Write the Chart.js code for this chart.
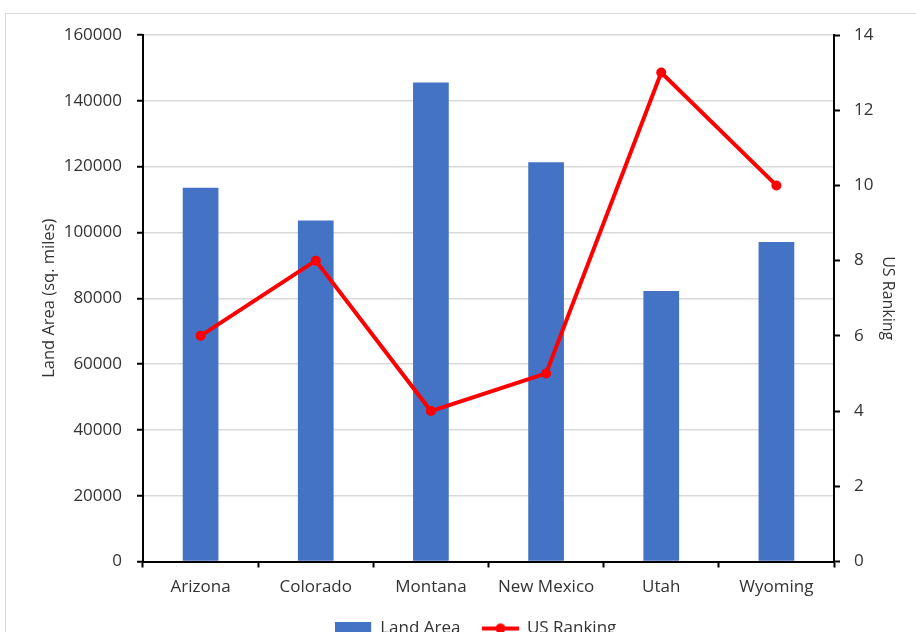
<!DOCTYPE html>
<html>
<head>
<meta charset="utf-8">
<script src="https://cdn.jsdelivr.net/npm/chart.js@4/dist/chart.umd.min.js"></script>
<style>
  html, body { margin: 0; padding: 0; background: #fff; overflow: hidden; }
  #wrap { position: absolute; left: 0; top: 0; width: 916px; height: 647px; }
</style>
</head>
<body>
<div id="wrap"><canvas id="chart"></canvas></div>
<script>
// Western states: land area and national land-area ranking
const states = ['Arizona', 'Colorado', 'Montana', 'New Mexico', 'Utah', 'Wyoming'];
const landArea = [113594, 103642, 145546, 121298, 82170, 97093];
const usRanking = [6, 8, 4, 5, 13, 10];

const BLUE = '#4472C4';
const RED = '#FF0000';
const TEXT = '#333333';
const FONT = "'Open Sans', 'Liberation Sans', sans-serif";

// legend swatches: a filled box and a line with a marker
function swatch(kind) {
  const c = document.createElement('canvas');
  c.width = 37; c.height = 14;
  const g = c.getContext('2d');
  if (kind === 'bar') {
    g.fillStyle = BLUE;
    g.fillRect(0, 0, 36, 14);
  } else {
    g.strokeStyle = RED; g.lineWidth = 4;
    g.beginPath(); g.moveTo(0, 7); g.lineTo(37, 7); g.stroke();
    g.fillStyle = RED;
    g.beginPath(); g.arc(18.5, 7, 5, 0, Math.PI * 2); g.fill();
  }
  return c;
}

// light frame around the whole chart
const framePlugin = {
  id: 'frame',
  beforeDraw(chart) {
    const ctx = chart.ctx;
    ctx.save();
    ctx.strokeStyle = '#D9D9D9';
    ctx.lineWidth = 1;
    ctx.strokeRect(5.5, 13.5, 1000, 1000);
    ctx.restore();
  }
};

// nudge the legend row to the right
const legendShift = {
  id: 'legendShift',
  afterLayout(chart) {
    if (chart.legend) { chart.legend.left += 18; chart.legend.right += 18; }
  }
};

const plain = (v) => String(v);

new Chart(document.getElementById('chart'), {
  data: {
    labels: states,
    datasets: [
      {
        type: 'bar',
        label: 'Land Area',
        data: landArea,
        backgroundColor: BLUE,
        borderWidth: 0,
        barPercentage: 0.31,
        categoryPercentage: 1.0,
        yAxisID: 'y',
        order: 2
      },
      {
        type: 'line',
        label: 'US Ranking',
        data: usRanking,
        borderColor: RED,
        backgroundColor: RED,
        borderWidth: 4,
        pointRadius: 5,
        pointBackgroundColor: RED,
        pointBorderWidth: 0,
        tension: 0,
        yAxisID: 'y1',
        order: 1
      }
    ]
  },
  options: {
    responsive: true,
    maintainAspectRatio: false,
    animation: false,
    devicePixelRatio: 1,
    layout: { padding: { left: 0, right: 0, top: 35, bottom: 0 } },
    plugins: {
      tooltip: { enabled: false },
      legend: {
        position: 'bottom',
        labels: {
          usePointStyle: true,
          pointStyleWidth: 36,
          boxHeight: 14,
          padding: 22,
          color: TEXT,
          font: { family: FONT, size: 17 },
          generateLabels(chart) {
            return chart.data.datasets.map((ds, i) => ({
              text: ds.label,
              pointStyle: swatch(ds.type),
              fillStyle: ds.backgroundColor,
              strokeStyle: ds.borderColor,
              lineWidth: 0,
              hidden: false,
              datasetIndex: i,
              fontColor: TEXT
            }));
          }
        }
      }
    },
    scales: {
      x: {
        offset: true,
        grid: {
          offset: true,
          drawOnChartArea: false,
          drawTicks: true,
          tickLength: 6,
          tickWidth: 2,
          tickColor: '#000'
        },
        border: { color: '#000', width: 2 },
        ticks: {
          color: TEXT,
          font: { family: FONT, size: 17 },
          padding: 9,
          maxRotation: 0
        },
        afterFit(scale) { scale.height = 36.5; }
      },
      y: {
        position: 'left',
        min: 0,
        max: 160000,
        ticks: {
          stepSize: 20000,
          callback: plain,
          color: TEXT,
          font: { family: FONT, size: 17 },
          padding: 15
        },
        grid: {
          color: '#D9D9D9',
          lineWidth: 1.5,
          tickColor: '#000',
          tickLength: 6,
          tickWidth: 2
        },
        border: { color: '#000', width: 2 },
        title: {
          display: true,
          text: 'Land Area (sq. miles)',
          color: TEXT,
          font: { family: FONT, size: 16.5 },
          padding: { top: 39, bottom: 0 }
        },
        afterFit(scale) { scale.width = 143; }
      },
      y1: {
        position: 'right',
        min: 0,
        max: 14,
        ticks: {
          stepSize: 2,
          callback: plain,
          color: TEXT,
          font: { family: FONT, size: 17 },
          padding: 14
        },
        grid: {
          drawOnChartArea: false,
          tickColor: '#000',
          tickLength: 6,
          tickWidth: 2
        },
        border: { color: '#000', width: 2 },
        title: {
          display: true,
          text: 'US Ranking',
          color: TEXT,
          font: { family: FONT, size: 16 },
          padding: { top: 19, bottom: 0 }
        },
        afterFit(scale) { scale.width = 82; }
      }
    }
  },
  plugins: [framePlugin, legendShift]
});
</script>
</body>
</html>
